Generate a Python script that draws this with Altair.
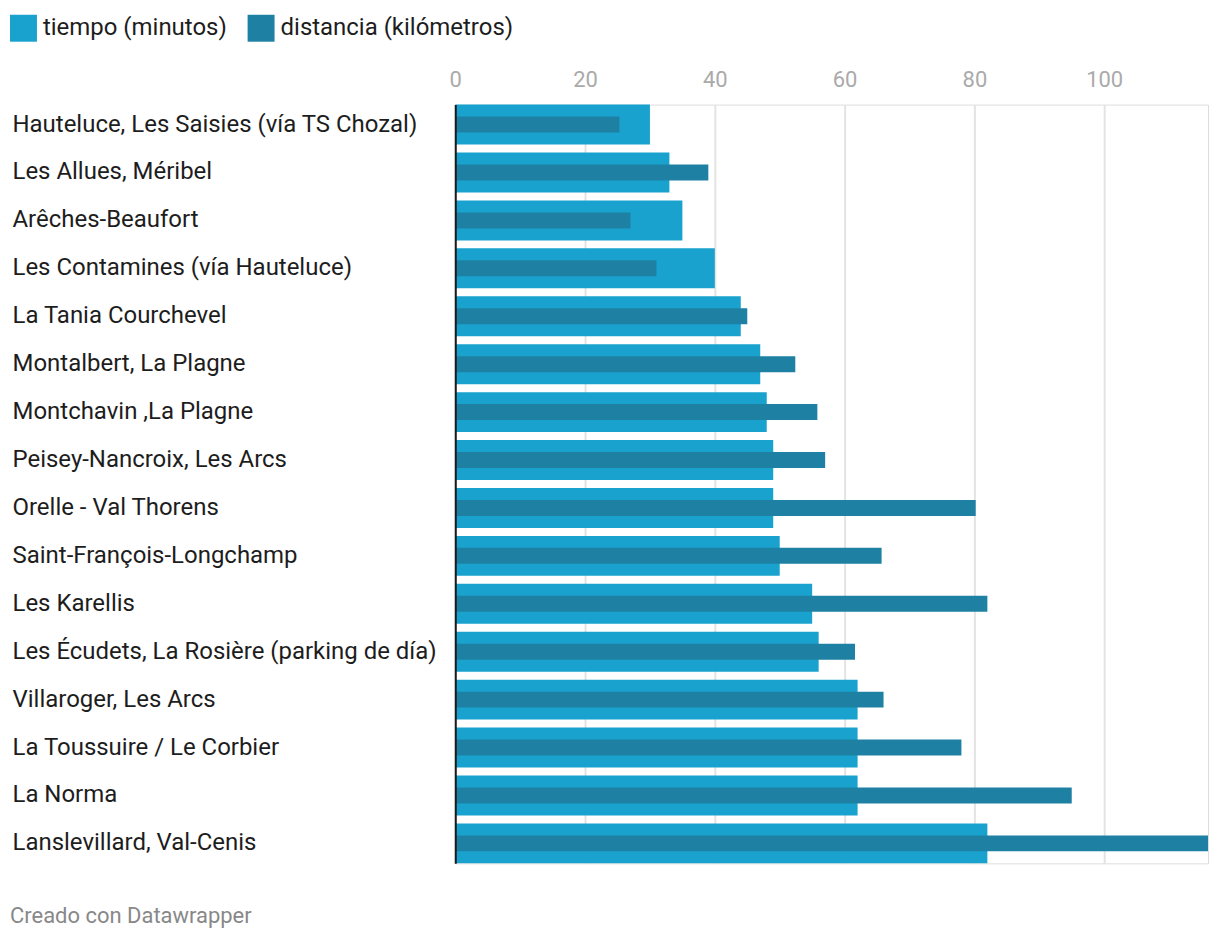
import altair as alt
import pandas as pd

categorias = [
    "Hauteluce, Les Saisies (vía TS Chozal)",
    "Les Allues, Méribel",
    "Arêches-Beaufort",
    "Les Contamines (vía Hauteluce)",
    "La Tania Courchevel",
    "Montalbert, La Plagne",
    "Montchavin ,La Plagne",
    "Peisey-Nancroix, Les Arcs",
    "Orelle - Val Thorens",
    "Saint-François-Longchamp",
    "Les Karellis",
    "Les Écudets, La Rosière (parking de día)",
    "Villaroger, Les Arcs",
    "La Toussuire / Le Corbier",
    "La Norma",
    "Lanslevillard, Val-Cenis",
]
tiempo = [30, 33, 35, 40, 44, 47, 48, 49, 49, 50, 55, 56, 62, 62, 62, 82]
distancia = [25.3, 39, 27, 31, 45, 52.4, 55.8, 57, 80.2, 65.7, 82, 61.6, 66, 78, 95, 116]
series = ["tiempo (minutos)", "distancia (kilómetros)"]
colores = ["#19a2ce", "#1e81a3"]
ticks_x = [0, 20, 40, 60, 80, 100]
pie = "Creado con Datawrapper"

df = pd.DataFrame({
    "lugar": categorias * 2,
    "serie": [series[0]] * len(categorias) + [series[1]] * len(categorias),
    "valor": tiempo + distancia,
})

color = alt.Color(
    "serie:N",
    scale=alt.Scale(domain=series, range=colores),
    legend=alt.Legend(
        orient="none", legendX=-446, legendY=-90, direction="horizontal",
        title=None, symbolType="square", symbolSize=729, symbolStrokeWidth=0,
        symbolOpacity=1, labelFontSize=24, labelFont="Roboto", labelColor="#1d1d1d",
        labelOffset=6, columnPadding=20, padding=0, labelLimit=0,
    ),
)

y = alt.Y(
    "lugar:N", sort=categorias, title=None,
    scale=alt.Scale(paddingInner=8 / 48, paddingOuter=0),
    axis=alt.Axis(
        labelAlign="left", labelPadding=444, ticks=False, domainColor="#1a1a1a",
        domainWidth=2, labelFontSize=24, labelFont="Roboto", labelColor="#1d1d1d",
        labelLimit=0, grid=False, zindex=1,
    ),
)

x = alt.X(
    "valor:Q", title=None,
    scale=alt.Scale(domain=[0, 116], nice=False),
    axis=alt.Axis(
        orient="top", values=ticks_x, domain=False, ticks=False,
        gridColor="#e3e3e3", gridWidth=2, labelFontSize=22, labelColor="#aaaaaa",
        labelPadding=13, labelFont="Roboto", labelFlush=False,
    ),
)

base = alt.Chart(df)
outer = base.transform_filter(alt.datum.serie == series[0]).mark_bar().encode(x=x, y=y, color=color)
inner = base.transform_filter(alt.datum.serie == series[1]).mark_bar(size=16).encode(x=x, y=y, color=color)

footer = alt.Chart(pd.DataFrame({"t": [pie]})).mark_text(
    align="left", baseline="middle", fontSize=22, color="#888888", font="Roboto"
).encode(x=alt.value(-446), y=alt.value(813), text="t:N")

chart = alt.layer(outer, inner, footer).properties(
    width=754, height=760,
    autosize=alt.AutoSizeParams(type="none"),
    padding={"left": 448, "top": 96, "right": 4, "bottom": 70},
).configure_view(stroke=None).configure(background="white")

chart.save("out.html", embed_options={"renderer": "svg", "actions": False})
